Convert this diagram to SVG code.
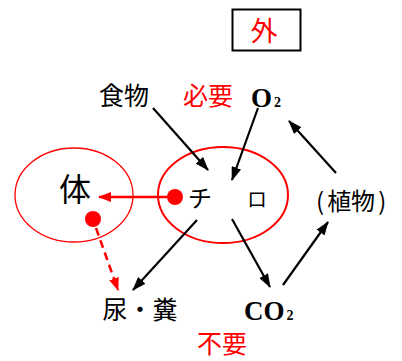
<svg xmlns="http://www.w3.org/2000/svg" width="402" height="361" viewBox="0 0 402 361">
<defs>
<style>
.jp{font-family:"Noto Sans CJK JP","Noto Sans CJK SC",sans-serif;}
.lat{font-family:"Liberation Serif","DejaVu Serif",serif;font-weight:bold;}
.blk{fill:#000;}
.red{fill:#ff0000;}
.conn{stroke:#000;stroke-width:2.2;fill:none;}
.rconn{stroke:#ff0000;stroke-width:2.5;fill:none;}
</style>
<marker id="ah" markerWidth="14" markerHeight="10" refX="13" refY="5" orient="auto" markerUnits="userSpaceOnUse">
<path d="M0,0 L14,5 L0,10 z" fill="#000"/>
</marker>
<marker id="rah" markerWidth="13" markerHeight="10" refX="12" refY="5" orient="auto" markerUnits="userSpaceOnUse">
<path d="M0,0 L13,5 L0,10 z" fill="#ff0000"/>
</marker>
</defs>
<rect width="402" height="361" fill="#fff"/>
<g id="outside">
<rect x="232.5" y="9.5" width="68" height="41" fill="none" stroke="#000" stroke-width="2"/>
<text x="264" y="41" class="jp red" font-size="27" text-anchor="middle">外</text>
</g>
<g id="body">
<ellipse cx="74" cy="195" rx="59" ry="47" fill="none" stroke="#ff0000" stroke-width="1.3"/>
<text x="75" y="201" class="jp blk" font-size="32" text-anchor="middle">体</text>
<circle cx="93" cy="219" r="8" fill="#ff0000"/>
</g>
<g id="cell">
<ellipse cx="223" cy="195" rx="65" ry="48" fill="none" stroke="#ff0000" stroke-width="2"/>
<circle cx="175" cy="197" r="8" fill="#ff0000"/>
<text x="200" y="207" class="jp blk" font-size="24" text-anchor="middle">チ</text>
<text x="257" y="207" class="jp blk" font-size="20" text-anchor="middle">ロ</text>
</g>
<g id="food"><text x="124" y="105" class="jp blk" font-size="25" text-anchor="middle">食物</text></g>
<g id="need"><text x="208" y="105" class="jp red" font-size="25" text-anchor="middle">必要</text></g>
<g id="o2"><text x="251" y="107" class="lat blk" font-size="27">O<tspan font-size="14" dx="2">2</tspan></text></g>
<g id="plant"><text x="316" y="210" class="jp blk" font-size="24">(<tspan dx="3">植物</tspan><tspan dx="3">)</tspan></text></g>
<g id="waste"><text x="140" y="319" class="jp blk" font-size="25" text-anchor="middle">尿・糞</text></g>
<g id="co2"><text x="244" y="320" class="lat blk" font-size="27">CO<tspan font-size="14" dx="2">2</tspan></text></g>
<g id="unneeded"><text x="222" y="353" class="jp red" font-size="25" text-anchor="middle">不要</text></g>
<g id="connectors">
<line x1="153" y1="108" x2="208" y2="170" class="conn" marker-end="url(#ah)"/>
<line x1="258" y1="108" x2="232" y2="180" class="conn" marker-end="url(#ah)"/>
<line x1="336" y1="173" x2="289" y2="121" class="conn" marker-end="url(#ah)"/>
<line x1="197" y1="220" x2="133" y2="290" class="conn" marker-end="url(#ah)"/>
<line x1="232" y1="219" x2="270" y2="287" class="conn" marker-end="url(#ah)"/>
<line x1="283" y1="285" x2="328" y2="222" class="conn" marker-end="url(#ah)"/>
<line x1="175" y1="197" x2="99" y2="197" class="rconn" marker-end="url(#rah)"/>
<line x1="96" y1="228" x2="118" y2="290" class="rconn" stroke-dasharray="8,5" marker-end="url(#rah)"/>
</g>
</svg>
